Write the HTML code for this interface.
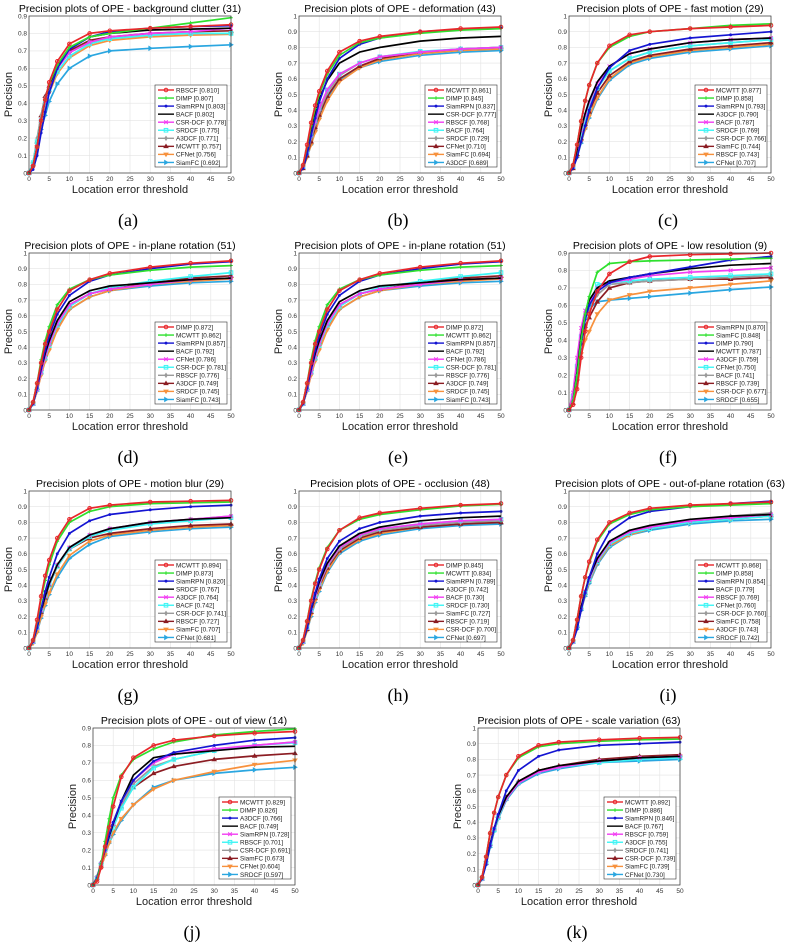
<!DOCTYPE html>
<html><head><meta charset="utf-8">
<style>
body{margin:0;background:#fff;}
svg{display:block;font-family:"Liberation Sans",sans-serif;}
</style></head>
<body>
<svg id="fig" width="787" height="947" viewBox="0 0 787 947"></svg>
<script>
const thresholds=[0,1,2,3,4,5,7,10,15,20,30,40,50];
const xTicks=[0,5,10,15,20,25,30,35,40,45,50];

const namesA=["RBSCF [0.810]","DIMP [0.807]","SiamRPN [0.803]","BACF [0.802]","CSR-DCF [0.778]","SRDCF [0.775]","A3DCF [0.771]","MCWTT [0.757]","CFNet [0.756]","SiamFC [0.692]"];
const valuesA=[
[0,.04,.15,.3,.42,.52,.64,.74,.8,.815,.83,.84,.85],
[0,.04,.15,.3,.42,.51,.62,.72,.78,.8,.83,.86,.89],
[0,.02,.1,.23,.35,.46,.6,.71,.78,.81,.83,.84,.845],
[0,.04,.15,.3,.42,.5,.62,.71,.78,.8,.82,.825,.83],
[0,.04,.15,.3,.41,.49,.6,.69,.75,.78,.8,.81,.83],
[0,.06,.18,.3,.4,.48,.58,.67,.74,.77,.79,.8,.8],
[0,.06,.2,.33,.43,.5,.6,.69,.75,.77,.79,.8,.8],
[0,.05,.18,.33,.44,.5,.61,.7,.76,.78,.8,.81,.815],
[0,.05,.15,.28,.38,.46,.57,.66,.73,.76,.78,.79,.795],
[0,.05,.15,.25,.33,.41,.51,.6,.67,.7,.715,.725,.735]];

const namesB=["MCWTT [0.861]","DIMP [0.845]","SiamRPN [0.837]","CSR-DCF [0.777]","RBSCF [0.768]","BACF [0.764]","SRDCF [0.729]","CFNet [0.710]","SiamFC [0.694]","A3DCF [0.689]"];
const valuesB=[
[0,.05,.18,.32,.43,.52,.65,.77,.84,.87,.9,.92,.93],
[0,.05,.17,.3,.41,.5,.63,.75,.83,.86,.89,.91,.92],
[0,.03,.12,.24,.35,.45,.6,.73,.82,.86,.9,.915,.925],
[0,.04,.15,.28,.38,.47,.59,.7,.77,.8,.84,.86,.87],
[0,.04,.13,.24,.33,.41,.53,.63,.7,.74,.77,.79,.8],
[0,.04,.13,.24,.33,.41,.53,.63,.7,.74,.775,.79,.8],
[0,.04,.12,.22,.31,.39,.51,.62,.7,.74,.77,.79,.8],
[0,.03,.11,.2,.29,.37,.49,.6,.68,.73,.77,.79,.8],
[0,.03,.1,.18,.26,.34,.46,.58,.67,.72,.76,.78,.79],
[0,.03,.1,.18,.27,.35,.47,.59,.67,.71,.75,.77,.78]];

const namesC=["MCWTT [0.877]","DIMP [0.858]","SiamRPN [0.793]","A3DCF [0.790]","BACF [0.787]","SRDCF [0.769]","CSR-DCF [0.766]","SiamFC [0.744]","RBSCF [0.743]","CFNet [0.707]"];
const valuesC=[
[0,.05,.18,.33,.46,.56,.7,.81,.88,.9,.92,.93,.94],
[0,.05,.18,.33,.46,.56,.7,.8,.87,.9,.92,.94,.95],
[0,.03,.1,.2,.3,.4,.54,.67,.78,.82,.86,.88,.9],
[0,.04,.15,.28,.38,.46,.58,.68,.76,.79,.83,.85,.86],
[0,.04,.15,.27,.37,.45,.57,.68,.76,.79,.83,.85,.86],
[0,.04,.14,.25,.34,.42,.54,.65,.73,.77,.81,.83,.85],
[0,.04,.14,.25,.34,.42,.54,.65,.73,.77,.81,.83,.85],
[0,.03,.12,.22,.31,.39,.51,.62,.71,.75,.79,.81,.83],
[0,.03,.1,.2,.28,.36,.48,.6,.7,.74,.78,.8,.82],
[0,.03,.1,.19,.28,.35,.47,.59,.69,.73,.77,.79,.81]];

const namesD=["DIMP [0.872]","MCWTT [0.862]","SiamRPN [0.857]","BACF [0.792]","CFNet [0.786]","CSR-DCF [0.781]","RBSCF [0.776]","A3DCF [0.749]","SRDCF [0.745]","SiamFC [0.743]"];
const valuesD=[
[0,.05,.17,.3,.42,.5,.64,.76,.83,.87,.91,.935,.95],
[0,.05,.17,.32,.44,.53,.67,.77,.83,.86,.89,.91,.92],
[0,.04,.14,.27,.38,.47,.61,.73,.82,.86,.9,.93,.945],
[0,.04,.14,.26,.36,.44,.57,.69,.76,.79,.81,.83,.84],
[0,.04,.13,.24,.34,.42,.55,.67,.74,.77,.8,.83,.84],
[0,.04,.13,.24,.33,.41,.54,.66,.74,.78,.82,.85,.875],
[0,.04,.13,.24,.34,.42,.55,.66,.74,.77,.8,.83,.84],
[0,.04,.14,.26,.35,.43,.55,.67,.74,.77,.81,.84,.855],
[0,.04,.12,.22,.31,.38,.51,.64,.72,.76,.8,.82,.835],
[0,.04,.12,.23,.32,.4,.52,.64,.72,.76,.79,.81,.82]];

const namesF=["SiamRPN [0.870]","SiamFC [0.848]","DIMP [0.790]","MCWTT [0.787]","A3DCF [0.759]","CFNet [0.750]","BACF [0.741]","RBSCF [0.739]","CSR-DCF [0.677]","SRDCF [0.655]"];
const valuesF=[
[0,.03,.12,.3,.45,.55,.68,.78,.85,.88,.89,.895,.9],
[0,.05,.2,.4,.55,.65,.79,.84,.85,.855,.86,.865,.87],
[0,.05,.2,.38,.52,.6,.68,.73,.76,.78,.82,.86,.88],
[0,.05,.22,.42,.55,.63,.7,.74,.76,.78,.81,.83,.84],
[0,.1,.3,.47,.57,.62,.7,.73,.75,.77,.79,.8,.815],
[0,.08,.25,.42,.53,.6,.72,.73,.74,.75,.76,.77,.78],
[0,.08,.25,.42,.52,.58,.66,.72,.73,.74,.75,.76,.77],
[0,.04,.18,.38,.48,.53,.62,.7,.73,.74,.75,.75,.76],
[0,.05,.2,.32,.4,.45,.55,.63,.66,.68,.7,.72,.74],
[0,.08,.25,.42,.52,.58,.62,.63,.64,.65,.67,.69,.705]];

const namesG=["MCWTT [0.894]","DIMP [0.873]","SiamRPN [0.820]","SRDCF [0.767]","A3DCF [0.764]","BACF [0.742]","CSR-DCF [0.741]","RBSCF [0.727]","SiamFC [0.707]","CFNet [0.681]"];
const valuesG=[
[0,.05,.18,.33,.46,.56,.7,.82,.89,.91,.93,.935,.94],
[0,.05,.17,.31,.43,.53,.68,.8,.87,.9,.92,.925,.93],
[0,.04,.13,.25,.36,.45,.6,.73,.81,.85,.88,.9,.91],
[0,.04,.13,.24,.33,.41,.53,.64,.72,.76,.8,.82,.83],
[0,.04,.13,.24,.33,.41,.53,.64,.72,.76,.8,.82,.84],
[0,.04,.13,.24,.33,.4,.52,.63,.71,.75,.79,.81,.83],
[0,.04,.13,.24,.33,.41,.53,.64,.72,.76,.8,.82,.84],
[0,.04,.13,.23,.32,.4,.52,.63,.7,.73,.76,.78,.79],
[0,.03,.1,.2,.28,.35,.47,.59,.68,.72,.75,.77,.78],
[0,.03,.1,.19,.27,.34,.45,.57,.66,.71,.74,.76,.77]];

const namesH=["DIMP [0.845]","MCWTT [0.834]","SiamRPN [0.789]","A3DCF [0.742]","BACF [0.730]","SRDCF [0.730]","SiamFC [0.727]","RBSCF [0.719]","CSR-DCF [0.700]","CFNet [0.697]"];
const valuesH=[
[0,.05,.17,.3,.41,.5,.63,.75,.83,.86,.89,.91,.92],
[0,.05,.17,.31,.42,.51,.64,.75,.82,.85,.88,.905,.915],
[0,.04,.13,.25,.35,.44,.57,.68,.76,.8,.84,.86,.87],
[0,.04,.13,.24,.34,.42,.54,.65,.73,.77,.81,.83,.84],
[0,.04,.13,.24,.33,.41,.53,.64,.72,.76,.79,.81,.82],
[0,.04,.13,.24,.33,.41,.53,.64,.72,.76,.79,.81,.82],
[0,.04,.13,.24,.33,.4,.52,.63,.71,.75,.78,.8,.81],
[0,.04,.12,.23,.32,.39,.51,.62,.7,.74,.77,.79,.8],
[0,.03,.11,.21,.3,.37,.49,.61,.69,.73,.77,.79,.8],
[0,.03,.11,.2,.29,.36,.48,.6,.68,.72,.76,.78,.79]];

const namesI=["MCWTT [0.868]","DIMP [0.858]","SiamRPN [0.854]","BACF [0.779]","RBSCF [0.769]","CFNet [0.760]","CSR-DCF [0.760]","SiamFC [0.758]","A3DCF [0.743]","SRDCF [0.742]"];
const valuesI=[
[0,.05,.18,.33,.45,.55,.69,.8,.86,.89,.91,.92,.93],
[0,.05,.18,.33,.45,.54,.68,.79,.85,.88,.9,.91,.92],
[0,.04,.12,.24,.35,.45,.6,.74,.83,.87,.9,.92,.935],
[0,.04,.14,.26,.36,.45,.57,.68,.75,.78,.82,.84,.85],
[0,.04,.14,.26,.36,.44,.56,.67,.74,.77,.81,.83,.85],
[0,.04,.13,.25,.35,.43,.55,.66,.73,.76,.8,.82,.84],
[0,.04,.14,.26,.36,.44,.56,.67,.74,.77,.81,.84,.86],
[0,.04,.14,.25,.35,.43,.55,.66,.73,.76,.8,.83,.845],
[0,.04,.13,.24,.34,.42,.54,.65,.72,.76,.8,.82,.84],
[0,.04,.13,.24,.33,.41,.53,.64,.72,.75,.79,.81,.82]];

const namesJ=["MCWTT [0.829]","DIMP [0.826]","A3DCF [0.766]","BACF [0.749]","SiamRPN [0.728]","RBSCF [0.701]","CSR-DCF [0.691]","SiamFC [0.673]","CFNet [0.604]","SRDCF [0.597]"];
const valuesJ=[
[0,.02,.1,.22,.33,.45,.62,.73,.8,.83,.855,.87,.88],
[0,.03,.12,.25,.38,.5,.63,.72,.78,.82,.86,.88,.895],
[0,.04,.12,.2,.29,.36,.48,.6,.71,.76,.8,.83,.845],
[0,.04,.12,.2,.28,.35,.48,.63,.73,.75,.77,.79,.795],
[0,.04,.12,.2,.28,.35,.48,.6,.7,.75,.78,.8,.82],
[0,.04,.12,.2,.27,.33,.44,.56,.67,.72,.77,.8,.815],
[0,.05,.12,.2,.27,.34,.46,.58,.68,.72,.77,.8,.82],
[0,.04,.13,.21,.29,.35,.45,.56,.64,.68,.72,.74,.755],
[0,.04,.1,.17,.24,.3,.38,.46,.55,.6,.65,.69,.715],
[0,.04,.1,.17,.24,.29,.37,.46,.56,.6,.64,.66,.675]];

const namesK=["MCWTT [0.892]","DIMP [0.886]","SiamRPN [0.846]","BACF [0.767]","RBSCF [0.759]","A3DCF [0.755]","SRDCF [0.741]","CSR-DCF [0.739]","SiamFC [0.739]","CFNet [0.730]"];
const valuesK=[
[0,.05,.18,.33,.46,.56,.7,.82,.89,.91,.925,.935,.94],
[0,.05,.18,.33,.46,.56,.7,.81,.88,.9,.915,.925,.93],
[0,.04,.13,.25,.36,.45,.6,.73,.82,.86,.89,.9,.91],
[0,.04,.14,.26,.36,.44,.56,.66,.73,.76,.79,.81,.82],
[0,.04,.14,.26,.36,.44,.55,.65,.72,.75,.79,.81,.82],
[0,.04,.14,.26,.35,.43,.55,.65,.72,.75,.78,.8,.81],
[0,.04,.14,.26,.35,.43,.55,.65,.72,.75,.79,.81,.82],
[0,.04,.14,.26,.36,.44,.56,.66,.73,.76,.8,.82,.83],
[0,.04,.14,.25,.35,.43,.55,.65,.72,.75,.79,.81,.82],
[0,.04,.13,.24,.34,.42,.54,.64,.71,.74,.78,.79,.8]];

const colors=["#e8262a","#2ee02e","#1414d2","#000000","#f23cf2","#3cf5f5","#9a9a9a","#8b1c22","#f7913d","#2aa6e0"];
const markers=["o","+","*","none","x","s","d","^","v",">"];

const panels=[
 {id:"a",title:"Precision plots of OPE - background clutter (31)",x:29,y:16,ymax:.9,names:namesA,vals:valuesA},
 {id:"b",title:"Precision plots of OPE - deformation (43)",x:299,y:16,ymax:1,names:namesB,vals:valuesB},
 {id:"c",title:"Precision plots of OPE - fast motion (29)",x:569,y:16,ymax:1,names:namesC,vals:valuesC},
 {id:"d",title:"Precision plots of OPE - in-plane rotation (51)",x:29,y:253,ymax:1,names:namesD,vals:valuesD},
 {id:"e",title:"Precision plots of OPE - in-plane rotation (51)",x:299,y:253,ymax:1,names:namesD,vals:valuesD},
 {id:"f",title:"Precision plots of OPE - low resolution (9)",x:569,y:253,ymax:.9,names:namesF,vals:valuesF},
 {id:"g",title:"Precision plots of OPE - motion blur (29)",x:29,y:491,ymax:1,names:namesG,vals:valuesG},
 {id:"h",title:"Precision plots of OPE - occlusion (48)",x:299,y:491,ymax:1,names:namesH,vals:valuesH},
 {id:"i",title:"Precision plots of OPE - out-of-plane rotation (63)",x:569,y:491,ymax:1,names:namesI,vals:valuesI},
 {id:"j",title:"Precision plots of OPE - out of view (14)",x:93,y:728,ymax:.9,names:namesJ,vals:valuesJ},
 {id:"k",title:"Precision plots of OPE - scale variation (63)",x:478,y:728,ymax:1,names:namesK,vals:valuesK}
];

const NS="http://www.w3.org/2000/svg";
const svg=document.getElementById("fig");
const W=202,H=157;
function mk(tag,attrs,parent,text){const e=document.createElementNS(NS,tag);for(const k in attrs)e.setAttribute(k,attrs[k]);if(text!==undefined)e.textContent=text;parent.appendChild(e);return e;}
function marker(g,type,cx,cy,c,r){
 let e;
 if(type==="o"){e=mk("circle",{cx,cy,r:r,fill:"none",stroke:c,"stroke-width":1},g);}
 else if(type==="+"){e=mk("path",{d:`M${cx-r} ${cy}H${cx+r}M${cx} ${cy-r}V${cy+r}`,stroke:c,"stroke-width":1},g);}
 else if(type==="*"){e=mk("circle",{cx,cy,r:r*0.8,fill:c},g);}
 else if(type==="x"){e=mk("path",{d:`M${cx-r} ${cy-r}L${cx+r} ${cy+r}M${cx-r} ${cy+r}L${cx+r} ${cy-r}`,stroke:c,"stroke-width":1},g);}
 else if(type==="s"){e=mk("rect",{x:cx-r,y:cy-r,width:2*r,height:2*r,fill:"none",stroke:c,"stroke-width":1},g);}
 else if(type==="d"){e=mk("path",{d:`M${cx} ${cy-r-1}L${cx+r} ${cy}L${cx} ${cy+r+1}L${cx-r} ${cy}Z`,fill:c},g);}
 else if(type==="^"){e=mk("path",{d:`M${cx} ${cy-r-1}L${cx+r+1} ${cy+r}L${cx-r-1} ${cy+r}Z`,fill:c},g);}
 else if(type==="v"){e=mk("path",{d:`M${cx} ${cy+r+1}L${cx+r+1} ${cy-r}L${cx-r-1} ${cy-r}Z`,fill:c},g);}
 else if(type===">"){e=mk("path",{d:`M${cx+r+1} ${cy}L${cx-r} ${cy-r-1}L${cx-r} ${cy+r+1}Z`,fill:c},g);}
 if(e){}
}
panels.forEach(p=>{
 const g=mk("g",{},svg);
 
 
 const xs=v=>p.x+v/50*W, ys=v=>p.y+H-v/p.ymax*H;
 mk("rect",{x:p.x,y:p.y,width:W,height:H,fill:"#fff",stroke:"none"},g);
 xTicks.forEach(t=>{
  const X=xs(t);
  const gl=mk("line",{x1:X,x2:X,y1:p.y,y2:p.y+H,stroke:"#e3e3e3","stroke-width":0.6},g);
  
  const tl=mk("text",{x:X,y:p.y+H+8,"font-size":6.5,"text-anchor":"middle",fill:"#333"},g,String(t));
  
 });
 const ny=Math.round(p.ymax*10);
 for(let i=0;i<=ny;i++){
  const v=i/10,Y=ys(v);
  const gl=mk("line",{x1:p.x,x2:p.x+W,y1:Y,y2:Y,stroke:"#e3e3e3","stroke-width":0.6},g);
  
  const lab=i===0?"0":(i===10?"1":v.toFixed(1));
  const tl=mk("text",{x:p.x-2,y:Y+2.3,"font-size":6.5,"text-anchor":"end",fill:"#333"},g,lab);
  
 }
 for(let s=p.vals.length-1;s>=0;s--){
  const vals=p.vals[s];
  const pts=vals.map((v,i)=>xs(thresholds[i]).toFixed(1)+","+ys(v).toFixed(1)).join(" ");
  const pl=mk("polyline",{points:pts,fill:"none",stroke:colors[s],"stroke-width":1.7,"stroke-linejoin":"round"},g);
  
  vals.forEach((v,i)=>marker(g,markers[s],xs(thresholds[i]),ys(v),colors[s],1.8));
 }
 const fr=mk("rect",{x:p.x,y:p.y,width:W,height:H,fill:"none",stroke:"#333","stroke-width":0.7},g);
 
 const tt=mk("text",{x:p.x+W/2,y:p.y-4,"font-size":10.5,"text-anchor":"middle",fill:"#000"},g,p.title);
 
 const xl=mk("text",{x:p.x+W/2,y:p.y+H+20,"font-size":11,"text-anchor":"middle",fill:"#222"},g,"Location error threshold");
 
 const yl=mk("text",{x:0,y:0,"font-size":11,"text-anchor":"middle",fill:"#222",transform:`translate(${p.x-17},${p.y+H/2}) rotate(-90)`},g,"Precision");
 
 const pl=mk("text",{x:p.x+W/2-2,y:p.y+H+53,"font-size":18,"text-anchor":"middle",fill:"#000","font-family":"Liberation Serif,serif"},g,"("+p.id+")");
 
 const lw=72,lh=82,lx=p.x+W-lw-4,ly=p.y+H-lh-6;
 const lg=mk("g",{},g);
 
 mk("rect",{x:lx,y:ly,width:lw,height:lh,fill:"#fff",stroke:"#333","stroke-width":0.6},lg);
 p.names.forEach((n,s)=>{
  const ey=ly+5+s*8.05;
  const le=mk("g",{},lg);
  
  mk("line",{x1:lx+3,x2:lx+19,y1:ey,y2:ey,stroke:colors[s],"stroke-width":1.4},le);
  marker(le,markers[s],lx+11,ey,colors[s],1.8);
  mk("text",{x:lx+21,y:ey+2.3,"font-size":6.4,fill:"#222"},le,n);
 });
});
</script>
</body></html>
